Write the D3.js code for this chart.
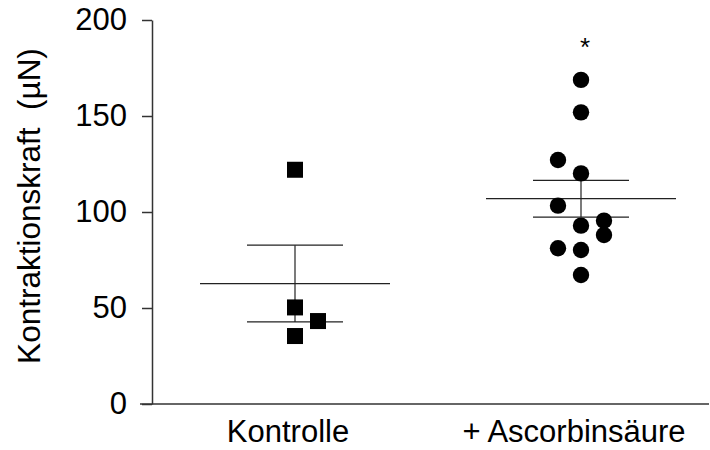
<!DOCTYPE html>
<html>
<head>
<meta charset="utf-8">
<script src="https://cdn.jsdelivr.net/npm/d3@7"></script>
<style>
  body { margin: 0; background: #fff; }
  text { font-family: "Liberation Sans", Arial, sans-serif; fill: #000; }
</style>
</head>
<body>
<svg id="chart" width="710" height="450"></svg>
<script>
// groups and tick labels
var groups = ['Kontrolle', '+ Ascorbinsäure'];
var yTicks = [0, 50, 100, 150, 200];

// individual values (µN)
var kontrolle = [122, 50.3, 43.2, 35.4];
var kontrolleCol = [0, 0, 1, 0];          // beeswarm column (-1 left, 0 centre, 1 right)
var ascorbin = [168.8, 151.9, 127.1, 120.1, 103.3, 92.9, 95.5, 88, 81.1, 80.2, 67.2];
var ascorbinCol = [0, 0, -1, 0, -1, 0, 1, 1, -1, 0, 0];
var significant = [false, true];

var svg = d3.select('#chart');

var y = d3.scaleLinear().domain([0, 200]).range([404, 20]);
var x = d3.scaleLinear().domain([0, 1]).range([295, 581]);
var colW = 23;

// y axis
var yAxis = d3.axisLeft(y)
    .tickValues(yTicks)
    .tickSize(10)
    .tickSizeOuter(0)
    .tickPadding(15);

var gy = svg.append('g')
    .attr('transform', 'translate(152,0)')
    .call(yAxis);
gy.select('.domain').attr('stroke', '#333').attr('stroke-width', 1.5);
gy.selectAll('.tick line').attr('stroke', '#333').attr('stroke-width', 1.5);
gy.selectAll('.tick text')
    .attr('font-size', 31)
    .attr('font-family', '"Liberation Sans", Arial, sans-serif')
    .attr('fill', '#000');

// x axis baseline
svg.append('line')
    .attr('x1', 140).attr('x2', 709)
    .attr('y1', y(0)).attr('y2', y(0))
    .attr('stroke', '#333').attr('stroke-width', 1.5);

// group labels
svg.selectAll('.xlabel')
    .data(groups)
    .enter().append('text')
    .attr('class', 'xlabel')
    .attr('x', function(d, i) { return x(i) - 7; })
    .attr('y', 442)
    .attr('text-anchor', 'middle')
    .attr('font-size', 31)
    .text(function(d) { return d; });

// y label
svg.append('text')
    .attr('transform', 'translate(40,206) rotate(-90)')
    .attr('text-anchor', 'middle')
    .attr('font-size', 31.5)
    .style('white-space', 'pre')
    .text('Kontraktionskraft  (µN)');

// mean and SEM
var sets = [kontrolle, ascorbin];
sets.forEach(function(vals, i) {
    var m = d3.mean(vals);
    var sem = d3.deviation(vals) / Math.sqrt(vals.length);
    var cx = x(i);
    var g = svg.append('g').attr('stroke', '#222').attr('stroke-width', 1.2);
    g.append('line').attr('x1', cx - 95).attr('x2', cx + 95).attr('y1', y(m)).attr('y2', y(m));
    g.append('line').attr('x1', cx - 48).attr('x2', cx + 48).attr('y1', y(m + sem)).attr('y2', y(m + sem));
    g.append('line').attr('x1', cx - 48).attr('x2', cx + 48).attr('y1', y(m - sem)).attr('y2', y(m - sem));
    g.append('line').attr('x1', cx).attr('x2', cx).attr('y1', y(m + sem)).attr('y2', y(m - sem));
});

// squares for Kontrolle
svg.selectAll('.sq')
    .data(kontrolle)
    .enter().append('rect')
    .attr('class', 'sq')
    .attr('x', function(d, i) { return x(0) + kontrolleCol[i] * colW - 8; })
    .attr('y', function(d) { return y(d) - 8; })
    .attr('width', 16).attr('height', 16)
    .attr('fill', '#000');

// circles for Ascorbinsäure
svg.selectAll('.dot')
    .data(ascorbin)
    .enter().append('circle')
    .attr('class', 'dot')
    .attr('cx', function(d, i) { return x(1) + ascorbinCol[i] * colW; })
    .attr('cy', function(d) { return y(d); })
    .attr('r', 8.2)
    .attr('fill', '#000');

// significance mark
significant.forEach(function(s, i) {
    if (!s) return;
    svg.append('text')
        .attr('x', x(i) + 4)
        .attr('y', y(d3.max(sets[i])) - 24)
        .attr('text-anchor', 'middle')
        .attr('font-size', 26)
        .text('*');
});
</script>
</body>
</html>
